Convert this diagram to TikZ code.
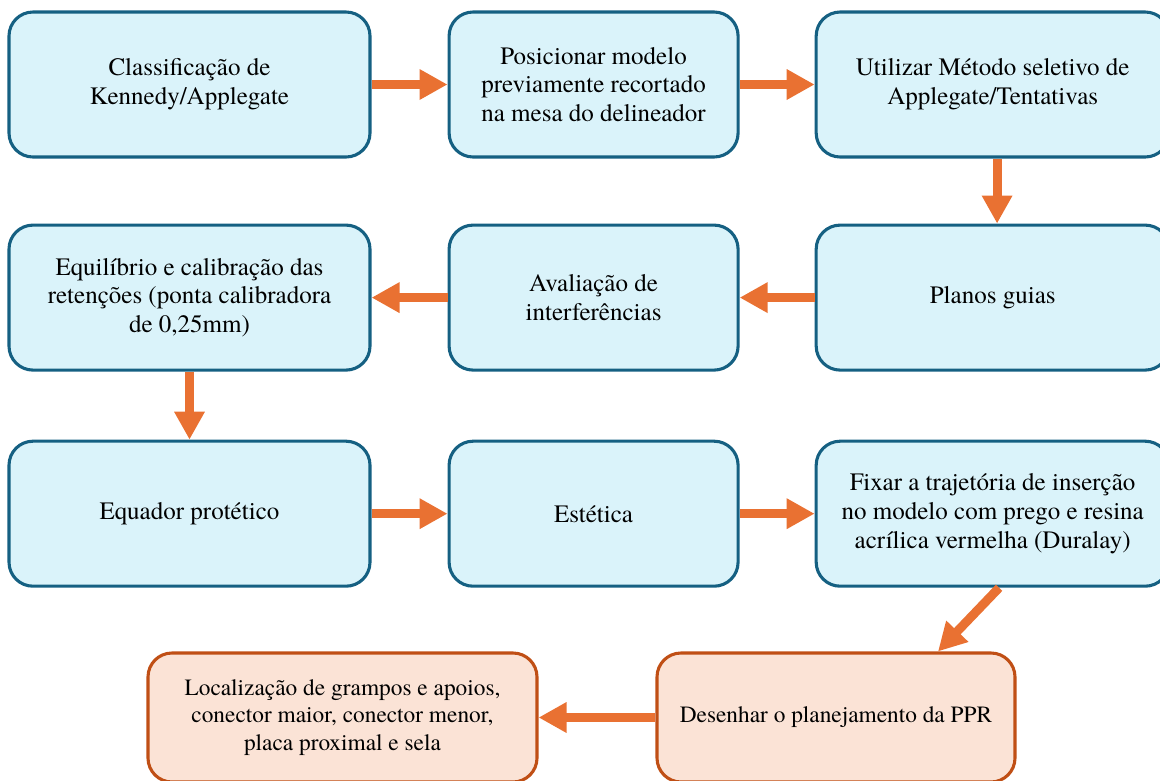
\documentclass[tikz,border=0pt]{standalone}
\usepackage{fontspec}
\setmainfont{texgyretermes}[Extension=.otf,UprightFont=*-regular,BoldFont=*-bold,ItalicFont=*-italic,BoldItalicFont=*-bolditalic]
\usetikzlibrary{arrows.meta}
\usetikzlibrary{positioning}
\usetikzlibrary{calc}

\definecolor{azulfundo}{HTML}{DAF3FA}
\definecolor{azulborda}{HTML}{156082}
\definecolor{laranjafundo}{HTML}{FBE3D6}
\definecolor{laranjaborda}{HTML}{C04F15}
\definecolor{laranjaseta}{HTML}{E97132}

\begin{document}
\begin{tikzpicture}[inner sep=2pt,
  caixa/.style={draw=azulborda,fill=azulfundo,line width=2.2pt,rounded corners=0.6cm,
    minimum height=3.625cm,align=center,font=\fontsize{17.8}{20.5}\selectfont},
  caixafinal/.style={caixa,draw=laranjaborda,fill=laranjafundo,minimum height=3.225cm,
    font=\fontsize{16.6}{19.6}\selectfont},
  seta/.style={draw=laranjaseta,line width=0.225cm,-{Triangle[length=0.7cm,width=0.72cm]}}]
\useasboundingbox (0,0) rectangle (29,-19.5);
\draw node [caixa,minimum width=9.025cm] at (4.7375,-2.1125) (C1) {Classificação de\\Kennedy/Applegate};
\draw node [caixa,minimum width=7.225cm] [right=1.9cm of C1] (C2) {Posicionar modelo\\previamente recortado\\na mesa do delineador};
\draw node [caixa,minimum width=8.825cm] [right=1.875cm of C2] (C3) {Utilizar Método seletivo de\\Applegate/Tentativas};
\draw node [caixa,minimum width=8.825cm] [below=1.625cm of C3] (C6) {Planos guias};
\draw node [caixa,minimum width=7.225cm] [below=1.625cm of C2] (C5) {Avaliação de\\interferências};
\draw node [caixa,minimum width=9.025cm] [below=1.625cm of C1] (C4) {Equilíbrio e calibração das\\retenções (ponta calibradora\\de 0,25mm)};
\draw node [caixa,minimum width=9.025cm] [below=1.7cm of C4] (C7) {Equador protético};
\draw node [caixa,minimum width=7.225cm] [below=1.7cm of C5] (C8) {Estética};
\draw node [caixa,minimum width=8.825cm] [below=1.7cm of C6] (C9) {Fixar a trajetória de inserção\\no modelo com prego e resina\\acrílica vermelha (Duralay)};
\draw node [caixafinal,minimum width=8.95cm] at (20.9,-17.9375) (F1) {Desenhar o planejamento da PPR};
\draw node [caixafinal,minimum width=9.725cm] at (8.5625,-17.9375) (F2) {Localização de grampos e apoios,\\conector maior, conector menor,\\placa proximal e sela};
\draw [seta] (C1.east) -- (C2.west);
\draw [seta] (C2.east) -- (C3.west);
\draw [seta] ($ (C3.south) + (0.11,0) $) -- ($ (C6.north) + (0.11,0) $);
\draw [seta] (C6.west) -- (C5.east);
\draw [seta] (C5.west) -- (C4.east);
\draw [seta] (C4.south) -- (C7.north);
\draw [seta] (C7.east) -- (C8.west);
\draw [seta] (C8.east) -- (C9.west);
\draw [seta] ($ (C9.south) + (0.16,0) $) -- ($ (F1.north) + (2.55,0) $);
\draw [seta] (F1.west) -- (F2.east);
\end{tikzpicture}
\end{document}
